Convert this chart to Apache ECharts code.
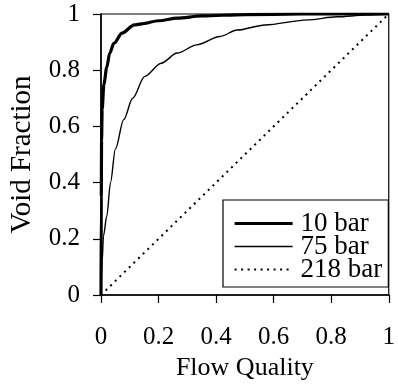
<!DOCTYPE html>
<html>
<head>
<meta charset="utf-8">
<script src="https://cdn.jsdelivr.net/npm/echarts@6/dist/echarts.min.js"></script>
<style>
  html, body { margin: 0; padding: 0; background: #fff; }
  #chart { width: 398px; height: 386px; }
</style>
</head>
<body>
<div id="chart"></div>
<script>
// Void fraction versus flow quality at three pressures
const seriesNames = ['10 bar', '75 bar', '218 bar'];

const quality10 = [0, 0.001, 0.002, 0.004, 0.01, 0.02, 0.03, 0.045, 0.073, 0.116, 0.141, 0.2, 0.265, 0.35, 0.5, 0.7, 1];
const void10    = [0, 0.35, 0.55, 0.66, 0.75, 0.81, 0.86, 0.896, 0.932, 0.961, 0.965, 0.976, 0.985, 0.993, 0.998, 1, 1];

const quality75 = [0, 0.004, 0.0085, 0.02, 0.033, 0.05, 0.079, 0.11, 0.152, 0.209, 0.265, 0.333, 0.413, 0.474, 0.57, 0.718, 0.82, 0.92, 1];
const void75    = [0, 0.12, 0.21, 0.28, 0.40, 0.52, 0.624, 0.70, 0.778, 0.825, 0.861, 0.89, 0.92, 0.943, 0.961, 0.979, 0.99, 0.996, 1];

const quality218 = [0, 1];
const void218    = [0, 1];

const xTicks = [0, 0.2, 0.4, 0.6, 0.8, 1];
const yTicks = [0, 0.2, 0.4, 0.6, 0.8, 1];

const FONT = '"Liberation Serif", "Times New Roman", serif';
const CLEAR = 'rgba(0,0,0,0)';

// line styles shared by each series and its legend entry
const styles = {
  '10 bar':  { color: '#000', width: 3.2, type: 'solid' },
  '75 bar':  { color: '#000', width: 1.4, type: 'solid' },
  '218 bar': { color: '#000', width: 2, type: [2, 4.5] }
};

function pairs(xs, ys) {
  return xs.map((x, i) => [x, ys[i]]);
}

const chart = echarts.init(document.getElementById('chart'), null, { renderer: 'canvas' });

const axisCommon = {
  type: 'value',
  min: 0,
  max: 1,
  interval: 0.2,
  splitLine: { show: false },
  axisLine: { show: true, lineStyle: { color: '#000', width: 1.5 } },
  axisTick: { show: true, length: 8, lineStyle: { color: '#000', width: 1.2 } },
  nameLocation: 'middle'
};

chart.setOption({
  animation: false,
  backgroundColor: '#fff',
  grid: {
    left: 99, right: 5, top: 14, bottom: 90,
    show: true, borderColor: '#000', borderWidth: 1.2, backgroundColor: 'transparent'
  },
  xAxis: Object.assign({}, axisCommon, {
    name: 'Flow Quality',
    nameGap: 60,
    nameTextStyle: { color: '#000', fontFamily: FONT, fontSize: 26 },
    axisLabel: {
      color: '#000', fontFamily: FONT, fontSize: 25, margin: 30,
      formatter: v => xTicks.includes(v) ? String(v) : ''
    }
  }),
  yAxis: Object.assign({}, axisCommon, {
    name: 'Void Fraction',
    nameGap: 64,
    nameTextStyle: { color: '#000', fontFamily: FONT, fontSize: 29 },
    axisLabel: {
      color: '#000', fontFamily: FONT, fontSize: 25, margin: 21,
      formatter: v => yTicks.includes(v) ? String(v) : ''
    }
  }),
  legend: {
    orient: 'vertical',
    left: 223,
    top: 200,
    padding: [10, 6, 4, 10],
    itemWidth: 58,
    itemHeight: 20,
    itemGap: -4,
    backgroundColor: '#fff',
    borderColor: '#000',
    borderWidth: 1.2,
    borderRadius: 0,
    itemStyle: { color: CLEAR, borderWidth: 0, opacity: 0 },
    textStyle: { color: '#000', fontFamily: FONT, fontSize: 27, padding: [0, 0, 0, 3] },
    data: seriesNames.map(name => ({ name: name, lineStyle: styles[name] }))
  },
  series: seriesNames.slice().reverse().map(name => {
    const s = {
      name: name, type: 'line', symbol: 'none',
      itemStyle: { color: CLEAR },
      lineStyle: styles[name]
    };
    if (name === '10 bar') {
      s.data = pairs(quality10, void10);
    } else if (name === '75 bar') {
      s.data = pairs(quality75, void75);
    } else {
      s.data = pairs(quality218, void218);
    }
    if (name !== '218 bar') {
      s.smooth = 0.3;
      s.smoothMonotone = 'x';
    }
    return s;
  })
});
</script>
</body>
</html>
